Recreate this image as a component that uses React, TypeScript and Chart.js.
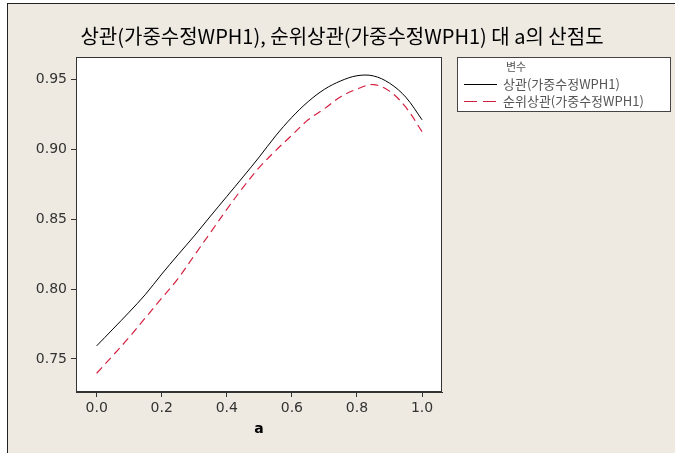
import React, { useEffect, useRef } from "react";
import { Chart, registerables } from "chart.js";

Chart.register(...registerables);

const titleText = "상관(가중수정WPH1), 순위상관(가중수정WPH1) 대 a의 산점도";
const xAxisTitle = "a";
const legendTitle = "변수";
const seriesNames = ["상관(가중수정WPH1)", "순위상관(가중수정WPH1)"];

const aValues = [0, 0.05, 0.1, 0.15, 0.2, 0.25, 0.3, 0.35, 0.4, 0.45, 0.5, 0.55, 0.6, 0.65, 0.7, 0.75, 0.8, 0.85, 0.9, 0.95, 1.0];
const corrValues = [0.7594, 0.7714, 0.7835, 0.7962, 0.8107, 0.8245, 0.838, 0.8522, 0.8662, 0.8802, 0.8945, 0.9095, 0.9228, 0.934, 0.9428, 0.9488, 0.9525, 0.9524, 0.9472, 0.9372, 0.921];
const rankCorrValues = [0.7398, 0.7525, 0.7655, 0.7795, 0.7935, 0.8075, 0.824, 0.8405, 0.857, 0.8727, 0.887, 0.899, 0.910, 0.921, 0.929, 0.9375, 0.943, 0.9462, 0.9415, 0.930, 0.9125];

const xTicks = [0, 0.2, 0.4, 0.6, 0.8, 1.0];
const yTicks = [0.75, 0.8, 0.85, 0.9, 0.95];

const BG = "#EEEAE2";
const RED = "#d42040";

export default function App() {
  const ref = useRef<HTMLCanvasElement | null>(null);

  useEffect(() => {
    document.body.style.margin = "0";
    const canvas = ref.current;
    if (!canvas) return;

    const framePlugin = {
      id: "frame",
      beforeDraw(chart: any) {
        const { ctx, width, height, chartArea } = chart;
        ctx.save();
        ctx.fillStyle = "#ffffff";
        ctx.fillRect(0, 0, width, height);
        ctx.fillStyle = BG;
        ctx.fillRect(7, 3, width - 7, height - 3);
        ctx.fillStyle = "#222";
        ctx.fillRect(7, 3, width - 7, 1);
        ctx.fillRect(7, 3, 1, height - 3);
        ctx.fillStyle = "#ffffff";
        ctx.fillRect(chartArea.left, chartArea.top, chartArea.right - chartArea.left, chartArea.bottom - chartArea.top);
        ctx.restore();
      },
      afterDraw(chart: any) {
        const { ctx, chartArea } = chart;
        ctx.save();
        ctx.strokeStyle = "#333";
        ctx.lineWidth = 1;
        ctx.strokeRect(chartArea.left + 0.5, chartArea.top + 0.5, chartArea.right - chartArea.left - 1, chartArea.bottom - chartArea.top - 1);
        ctx.fillStyle = "#000";
        ctx.font = '20px "Noto Sans CJK KR", sans-serif';
        ctx.textAlign = "center";
        ctx.textBaseline = "middle";
        ctx.fillText(titleText, 342, 36);
        const lx = 457, ly = 57, lw = 214, lh = 55;
        ctx.fillStyle = "#fff";
        ctx.fillRect(lx, ly, lw, lh);
        ctx.strokeStyle = "#444";
        ctx.strokeRect(lx + 0.5, ly + 0.5, lw - 1, lh - 1);
        ctx.fillStyle = "#555";
        ctx.font = '11px "Noto Sans CJK KR", sans-serif';
        ctx.textAlign = "left";
        ctx.fillText(legendTitle, 506, 67);
        const ds = chart.data.datasets;
        const rows = [84, 101];
        ds.forEach((d: any, i: number) => {
          const y = rows[i];
          ctx.beginPath();
          ctx.strokeStyle = d.borderColor;
          ctx.lineWidth = 1.2;
          ctx.setLineDash(i === 0 ? [] : [13, 6]);
          ctx.moveTo(464, y + 0.5);
          ctx.lineTo(497, y + 0.5);
          ctx.stroke();
          ctx.setLineDash([]);
          ctx.fillStyle = "#555";
          ctx.font = '13px "Noto Sans CJK KR", sans-serif';
          ctx.fillText(d.label, 503, y);
        });
        ctx.restore();
      },
    };

    const chart = new Chart(canvas, {
      type: "line",
      data: {
        datasets: [
          {
            label: seriesNames[0],
            data: aValues.map((a, i) => ({ x: a, y: corrValues[i] })),
            borderColor: "#000",
            borderWidth: 1,
            pointRadius: 0,
            tension: 0.35,
            fill: false,
          },
          {
            label: seriesNames[1],
            data: aValues.map((a, i) => ({ x: a, y: rankCorrValues[i] })),
            borderColor: RED,
            borderWidth: 1.2,
            borderDash: [8, 5],
            pointRadius: 0,
            tension: 0.35,
            fill: false,
          },
        ],
      },
      options: {
        animation: false,
        responsive: false,
        devicePixelRatio: 1,
        layout: { padding: { top: 57, right: 233, left: 0, bottom: 0 } },
        plugins: { legend: { display: false }, title: { display: false }, tooltip: { enabled: false } },
        scales: {
          x: {
            type: "linear",
            min: -0.0635,
            max: 1.0613,
            afterBuildTicks: (s: any) => { s.ticks = xTicks.map((v) => ({ value: v })); },
            afterFit: (s: any) => { s.height = 61; },
            ticks: {
              color: "#333",
              font: { family: "DejaVu Sans", size: 14 },
              padding: 3,
              maxRotation: 0,
              callback: (v: any) => Number(v).toFixed(1),
            },
            grid: { display: true, drawOnChartArea: false, drawTicks: true, tickLength: 5, tickColor: "#333" },
            border: { display: true, color: "#333" },
            title: {
              display: true,
              text: xAxisTitle,
              color: "#000",
              font: { family: "DejaVu Sans", size: 14, weight: "bold" },
              padding: { top: 0, bottom: 15 },
            },
          },
          y: {
            type: "linear",
            min: 0.7264,
            max: 0.9659,
            afterBuildTicks: (s: any) => { s.ticks = yTicks.map((v) => ({ value: v })); },
            afterFit: (s: any) => { s.width = 76; },
            ticks: {
              color: "#333",
              font: { family: "DejaVu Sans", size: 14 },
              padding: 4,
              callback: (v: any) => Number(v).toFixed(2),
            },
            grid: { display: true, drawOnChartArea: false, drawTicks: true, tickLength: 5, tickColor: "#333" },
            border: { display: true, color: "#333" },
          },
        },
      },
      plugins: [framePlugin],
    } as any);

    return () => chart.destroy();
  }, []);

  return <canvas ref={ref} width={675} height={453} style={{ display: "block", width: 675, height: 453 }} />;
}
